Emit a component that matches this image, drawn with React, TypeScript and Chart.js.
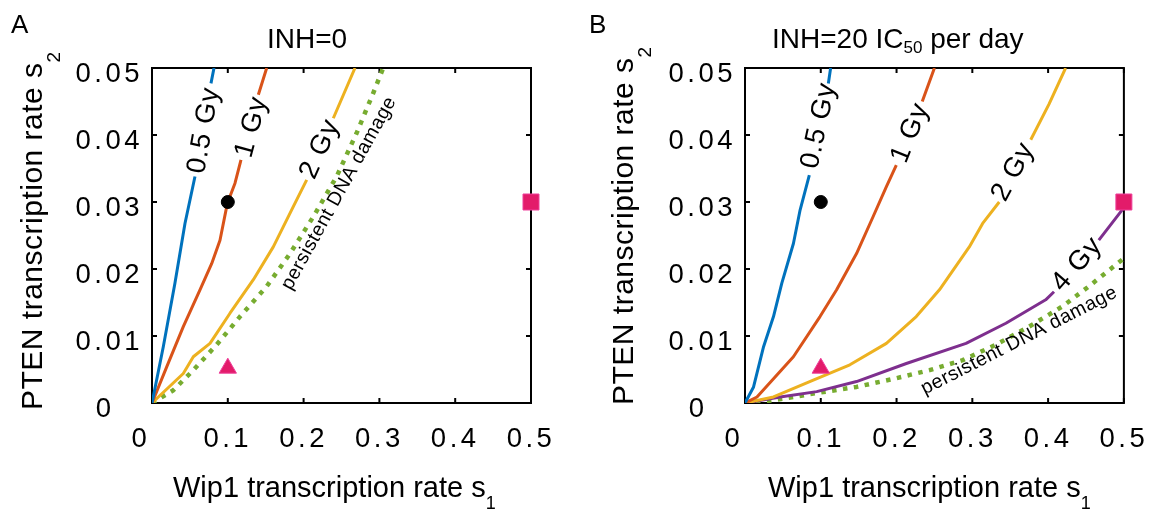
import React, { useEffect, useRef } from 'react';
import { Chart, registerables } from 'chart.js';
Chart.register(...registerables);

const FONT = "'Liberation Sans', Arial, Helvetica, sans-serif";
const BLUE = '#0072BD';
const RED = '#D95319';
const YELLOW = '#EDB120';
const PURPLE = '#7E2F8E';
const GREEN = '#77AC30';
const PINK = '#E31B6A';
const PINK_EDGE = '#EE3F9A';

// Axis ticks
const X_TICKS = [0, 0.1, 0.2, 0.3, 0.4, 0.5];
const X_TICK_LABELS = ['0', '0.1', '0.2', '0.3', '0.4', '0.5'];
const Y_TICKS = [0, 0.01, 0.02, 0.03, 0.04, 0.05];
const Y_TICK_LABELS = ['0', '0.01', '0.02', '0.03', '0.04', '0.05'];

// Panel A (INH=0) curves (null = gap for contour label)
const A_05_X = [0, 0.0149, 0.0303, 0.0435, 0.0567, 0.067, 0.0778, 0.0818];
const A_05_Y = [0, 0.0084, 0.0179, 0.0268, 0.0338, null, 0.0477, 0.05];
const A_1_X = [0, 0.0194, 0.0413, 0.0633, 0.0787, 0.0897, 0.0994, 0.1095, 0.1174, 0.13, 0.1403, 0.1513];
const A_1_Y = [0, 0.0054, 0.0114, 0.0169, 0.0208, 0.0243, 0.0298, 0.0328, 0.0363, null, 0.046, 0.05];
const A_2_X = [0, 0.0413, 0.0545, 0.0765, 0.1029, 0.1337, 0.16, 0.1864, 0.2041, 0.22, 0.2392, 0.2678];
const A_2_Y = [0, 0.0044, 0.0069, 0.0089, 0.0134, 0.0184, 0.0233, 0.0293, 0.0333, null, 0.0425, 0.05];
const A_P_X = [0, 0.0281, 0.0545, 0.0853, 0.1161, 0.1513, 0.1821, 0.2128, 0.2436, 0.27, 0.292, 0.305];
const A_P_Y = [0, 0.0019, 0.0049, 0.0087, 0.0129, 0.0174, 0.0223, 0.0278, 0.0338, 0.0403, 0.0463, 0.05];

// Panel B (INH=20 IC50 per day) curves
const B_05_X = [0, 0.0113, 0.0245, 0.0376, 0.0486, 0.0639, 0.0727, 0.0849, 0.097, 0.11, 0.113];
const B_05_Y = [0, 0.0024, 0.0084, 0.0129, 0.0179, 0.0238, 0.0288, 0.034, null, 0.0477, 0.05];
const B_1_X = [0, 0.0158, 0.0639, 0.099, 0.1209, 0.1472, 0.169, 0.1866, 0.1997, 0.218, 0.2339, 0.25];
const B_1_Y = [0, 0.0009, 0.0069, 0.0129, 0.0169, 0.0223, 0.0278, 0.0323, 0.0355, null, 0.045, 0.05];
const B_2_X = [0, 0.0376, 0.0901, 0.1384, 0.1866, 0.226, 0.2566, 0.296, 0.3136, 0.3355, 0.355, 0.3771, 0.4012, 0.4231];
const B_2_Y = [0, 0.0009, 0.0034, 0.0057, 0.0089, 0.0129, 0.0169, 0.0233, 0.0268, 0.03, null, 0.0393, 0.0446, 0.05];
const B_4_X = [0, 0.0464, 0.0946, 0.1472, 0.2129, 0.2917, 0.3443, 0.3968, 0.4078, 0.44, 0.4669, 0.4975, 0.5];
const B_4_Y = [0, 0.0009, 0.0017, 0.0032, 0.0059, 0.0089, 0.0119, 0.0154, 0.0166, null, 0.0243, 0.0288, 0.03];
const B_P_X = [0, 0.0376, 0.0902, 0.1472, 0.1997, 0.2435, 0.2873, 0.3311, 0.3749, 0.4187, 0.4537, 0.5];
const B_P_Y = [0, 0.0004, 0.0014, 0.0024, 0.0037, 0.0049, 0.0064, 0.0087, 0.0114, 0.0144, 0.0174, 0.0216];

// Markers (same in both panels)
const CIRCLE_PT = { x: 0.1, y: 0.03 };
const TRIANGLE_PT = { x: 0.1, y: 0.0052 };
const SQUARE_PT = { x: 0.5, y: 0.03 };

// Contour labels
const A_LABEL_TEXT = ['0.5 Gy', '1 Gy', '2 Gy', 'persistent DNA damage'];
const A_LABEL_X = [0.0686, 0.1315, 0.2216, 0.2467];
const A_LABEL_Y = [0.0407, 0.0412, 0.0379, 0.0313];
const A_LABEL_ANGLE = [-80, -75, -66, -61];
const B_LABEL_TEXT = ['0.5 Gy', '1 Gy', '2 Gy', '4 Gy', 'persistent DNA damage'];
const B_LABEL_X = [0.0976, 0.2181, 0.3539, 0.4384, 0.3618];
const B_LABEL_Y = [0.0414, 0.0403, 0.0345, 0.0207, 0.0093];
const B_LABEL_ANGLE = [-78, -68, -62, -49, -27];

type Run = { t: string; size: number; dy: number };

function drawRuns(ctx: CanvasRenderingContext2D, runs: Run[], x: number, y: number, angle: number, spacing: number) {
  ctx.save();
  (ctx as any).letterSpacing = spacing + 'px';
  ctx.translate(x, y);
  ctx.rotate(angle);
  ctx.textAlign = 'left';
  ctx.textBaseline = 'alphabetic';
  ctx.fillStyle = '#000';
  let cx = 0;
  for (const r of runs) {
    ctx.font = `${r.size}px ${FONT}`;
    ctx.fillText(r.t, cx, r.dy);
    cx += ctx.measureText(r.t).width;
  }
  ctx.restore();
}

interface PanelCfg {
  letter: string;
  letterX: number;
  titleRuns: Run[];
  titleX: number;
  xTitleX: number;
  yTitleX: number;
  yTitleY: number;
  labelText: string[];
  labelX: number[];
  labelY: number[];
  labelAngle: number[];
}

const TICK = 5;

function makePlugin(cfg: PanelCfg) {
  return {
    id: 'panel' + cfg.letter,
    beforeDraw(chart: any) {
      chart.ctx.letterSpacing = '3.5px';
    },
    beforeDatasetsDraw(chart: any) {
      const ctx = chart.ctx as CanvasRenderingContext2D;
      (ctx as any).letterSpacing = '0px';
      const { left, right, top, bottom } = chart.chartArea;
      const xs = chart.scales.x;
      const ys = chart.scales.y;
      ctx.save();
      ctx.strokeStyle = '#000';
      ctx.lineWidth = 2;
      ctx.strokeRect(left, top, right - left, bottom - top);
      ctx.beginPath();
      xs.ticks.forEach((t: any) => {
        const px = xs.getPixelForValue(t.value);
        ctx.moveTo(px, bottom);
        ctx.lineTo(px, bottom - TICK);
        ctx.moveTo(px, top);
        ctx.lineTo(px, top + TICK);
      });
      ys.ticks.forEach((t: any) => {
        const py = ys.getPixelForValue(t.value);
        ctx.moveTo(left, py);
        ctx.lineTo(left + TICK, py);
        ctx.moveTo(right, py);
        ctx.lineTo(right - TICK, py);
      });
      ctx.stroke();
      ctx.restore();
    },
    afterDatasetsDraw(chart: any) {
      const ctx = chart.ctx as CanvasRenderingContext2D;
      const xs = chart.scales.x;
      const ys = chart.scales.y;
      ctx.save();
      ctx.fillStyle = '#000';
      ctx.textAlign = 'center';
      ctx.textBaseline = 'middle';
      cfg.labelText.forEach((txt, i) => {
        const small = txt.length > 8;
        ctx.save();
        (ctx as any).letterSpacing = small ? '0.5px' : '1px';
        ctx.font = `${small ? 19.5 : 27.5}px ${FONT}`;
        ctx.translate(xs.getPixelForValue(cfg.labelX[i]), ys.getPixelForValue(cfg.labelY[i]));
        ctx.rotate((cfg.labelAngle[i] * Math.PI) / 180);
        ctx.fillText(txt, 0, 0);
        ctx.restore();
      });
      ctx.restore();
    },
    afterDraw(chart: any) {
      const ctx = chart.ctx as CanvasRenderingContext2D;
      drawRuns(ctx, [{ t: cfg.letter, size: 26, dy: 0 }], cfg.letterX, 33, 0, 0);
      drawRuns(ctx, cfg.titleRuns, cfg.titleX, 48, 0, 0);
      drawRuns(
        ctx,
        [
          { t: 'Wip1 transcription rate s', size: 29, dy: 0 },
          { t: '1', size: 18, dy: 12 },
        ],
        cfg.xTitleX,
        497,
        0,
        0
      );
      drawRuns(
        ctx,
        [
          { t: 'PTEN transcription rate s', size: 30, dy: 0 },
          { t: '2', size: 19, dy: 18 },
        ],
        cfg.yTitleX,
        cfg.yTitleY,
        -Math.PI / 2,
        0.5
      );
    },
  };
}

function pts(xs: number[], ys: (number | null)[]) {
  return xs.map((x, i) => ({ x, y: ys[i] }));
}

function lineDs(xs: number[], ys: (number | null)[], color: string, dotted = false) {
  return {
    data: pts(xs, ys),
    showLine: true,
    borderColor: color,
    backgroundColor: color,
    borderWidth: dotted ? 4.5 : 3,
    borderDash: dotted ? [4.5, 6.5] : [],
    borderCapStyle: 'butt',
    borderJoinStyle: 'round',
    pointRadius: 0,
    pointHoverRadius: 0,
    spanGaps: false,
    tension: 0,
    order: 1,
  };
}

function markerDs(p: { x: number; y: number }, style: string, radius: number, color: string, edge: string) {
  return {
    data: [p],
    showLine: false,
    pointStyle: style,
    pointRadius: radius,
    pointHoverRadius: radius,
    pointBackgroundColor: color,
    pointBorderColor: edge,
    pointBorderWidth: 1,
    clip: false,
    order: 0,
  };
}

function markers() {
  return [
    markerDs(CIRCLE_PT, 'circle', 6.5, '#000', '#000'),
    markerDs(TRIANGLE_PT, 'triangle', 10, PINK, PINK_EDGE),
    markerDs(SQUARE_PT, 'rect', 11.3, PINK, PINK_EDGE),
  ];
}

function makeConfig(datasets: any[], cfg: PanelCfg, yWidth: number, padRight: number) {
  return {
    type: 'scatter',
    data: { datasets },
    options: {
      animation: false,
      responsive: false,
      events: [],
      layout: { padding: { left: 0, right: padRight, top: 68, bottom: 0 } },
      plugins: { legend: { display: false }, tooltip: { enabled: false }, title: { display: false } },
      scales: {
        x: {
          type: 'linear',
          min: 0,
          max: 0.5,
          grid: { display: false, drawTicks: false },
          border: { display: false },
          afterBuildTicks: (s: any) => {
            s.ticks = X_TICKS.map((v) => ({ value: v }));
          },
          afterFit: (s: any) => {
            s.height = 107;
          },
          ticks: {
            padding: 20,
            maxRotation: 0,
            autoSkip: false,
            color: '#000',
            font: { family: FONT, size: 27.5 },
            callback: (_v: any, i: number) => X_TICK_LABELS[i] + (i === 0 ? '  ' : ''),
          },
        },
        y: {
          type: 'linear',
          min: 0,
          max: 0.05,
          grid: { display: false, drawTicks: false },
          border: { display: false },
          afterBuildTicks: (s: any) => {
            s.ticks = Y_TICKS.map((v) => ({ value: v }));
          },
          afterFit: (s: any) => {
            s.width = yWidth;
          },
          ticks: {
            padding: 9,
            labelOffset: 6,
            autoSkip: false,
            color: '#000',
            font: { family: FONT, size: 27.5 },
            callback: (_v: any, i: number) => Y_TICK_LABELS[i] + (i === 0 ? '\u2002 ' : ''),
          },
        },
      },
    },
    plugins: [makePlugin(cfg)],
  };
}

const PANEL_A: PanelCfg = {
  letter: 'A',
  letterX: 11,
  titleRuns: [{ t: 'INH=0', size: 28, dy: 0 }],
  titleX: 267,
  xTitleX: 173,
  yTitleX: 42,
  yTitleY: 410,
  labelText: A_LABEL_TEXT,
  labelX: A_LABEL_X,
  labelY: A_LABEL_Y,
  labelAngle: A_LABEL_ANGLE,
};

const PANEL_B: PanelCfg = {
  letter: 'B',
  letterX: 8,
  titleRuns: [
    { t: 'INH=20 IC', size: 28, dy: 0 },
    { t: '50', size: 17, dy: 5 },
    { t: ' per day', size: 28, dy: 0 },
  ],
  titleX: 191,
  xTitleX: 187,
  yTitleX: 52,
  yTitleY: 405,
  labelText: B_LABEL_TEXT,
  labelX: B_LABEL_X,
  labelY: B_LABEL_Y,
  labelAngle: B_LABEL_ANGLE,
};

export default function App() {
  const refA = useRef<HTMLCanvasElement>(null);
  const refB = useRef<HTMLCanvasElement>(null);

  useEffect(() => {
    const dsA = [
      ...markers(),
      lineDs(A_05_X, A_05_Y, BLUE),
      lineDs(A_1_X, A_1_Y, RED),
      lineDs(A_2_X, A_2_Y, YELLOW),
      lineDs(A_P_X, A_P_Y, GREEN, true),
    ];
    const dsB = [
      ...markers(),
      lineDs(B_05_X, B_05_Y, BLUE),
      lineDs(B_1_X, B_1_Y, RED),
      lineDs(B_2_X, B_2_Y, YELLOW),
      lineDs(B_4_X, B_4_Y, PURPLE),
      lineDs(B_P_X, B_P_Y, GREEN, true),
    ];
    const a = new Chart(refA.current as HTMLCanvasElement, makeConfig(dsA, PANEL_A, 152, 50) as any);
    const b = new Chart(refB.current as HTMLCanvasElement, makeConfig(dsB, PANEL_B, 164, 38) as any);
    return () => {
      a.destroy();
      b.destroy();
    };
  }, []);

  return (
    <div style={{ position: 'absolute', left: 0, top: 0, width: 1163, height: 510, background: '#fff' }}>
      <canvas ref={refA} width={581} height={510} style={{ position: 'absolute', left: 0, top: 0, width: 581, height: 510 }} />
      <canvas ref={refB} width={582} height={510} style={{ position: 'absolute', left: 581, top: 0, width: 582, height: 510 }} />
    </div>
  );
}
